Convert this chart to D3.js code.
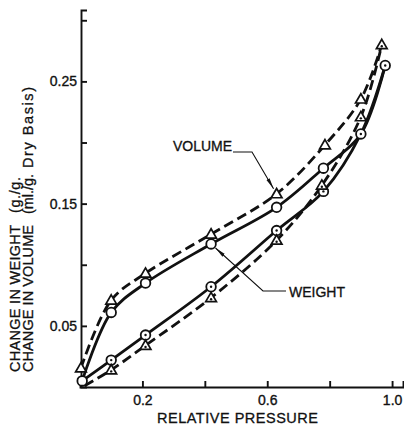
<!DOCTYPE html>
<html>
<head>
<meta charset="utf-8">
<script src="https://cdn.jsdelivr.net/npm/d3@7"></script>
<style>
  body { margin: 0; background: #fff; }
  svg text { font-family: "Liberation Sans", Arial, sans-serif; fill: #111; }
</style>
</head>
<body>
<div id="chart"></div>
<script>
// relative pressure (x) and change per g dry basis (y)
var weightUpX = [0.007, 0.10, 0.21, 0.42, 0.63, 0.78, 0.90, 0.978];
var weightUpY = [0.005, 0.061, 0.085, 0.117, 0.147, 0.179, 0.207, 0.263];
var weightLowX = [0.007, 0.10, 0.21, 0.42, 0.63, 0.78, 0.90, 0.978];
var weightLowY = [0.005, 0.022, 0.0425, 0.082, 0.128, 0.160, 0.207, 0.263];
var volumeUpX = [0.003, 0.10, 0.21, 0.42, 0.63, 0.785, 0.90, 0.967];
var volumeUpY = [0.0155, 0.071, 0.093, 0.125, 0.158, 0.198, 0.2355, 0.280];
var volumeLowX = [0.015, 0.10, 0.21, 0.42, 0.63, 0.775, 0.90, 0.967];
var volumeLowY = [0.001, 0.014, 0.034, 0.073, 0.120, 0.165, 0.221, 0.280];

var xTicks = [0.2, 0.4, 0.6, 0.8, 1.0];
var xTickLabels = ["0.2", "", "0.6", "", "1.0"];
var yTicks = [0.05, 0.10, 0.15, 0.20, 0.25, 0.30];
var yTickLabels = ["0.05", "", "0.15", "", "0.25", ""];

var width = 404, height = 431;

var svg = d3.select("#chart").append("svg")
  .attr("width", width)
  .attr("height", height);

var x = d3.scaleLinear().domain([0, 1.035]).range([80, 403]);
var y = d3.scaleLinear().domain([0, 0.3084]).range([387, 10]);

function zip(xs, ys) {
  return xs.map(function (v, i) { return [v, ys[i]]; });
}
var weightUp = zip(weightUpX, weightUpY);
var weightLow = zip(weightLowX, weightLowY);
var volumeUp = zip(volumeUpX, volumeUpY);
var volumeLow = zip(volumeLowX, volumeLowY);

// axes
var xAxis = d3.axisBottom(x)
  .tickValues(xTicks)
  .tickSize(-6)
  .tickPadding(8)
  .tickFormat(function (d, i) { return xTickLabels[i]; });
var gx = svg.append("g").attr("transform", "translate(0," + y(0) + ")").call(xAxis);

var yAxis = d3.axisLeft(y)
  .tickValues(yTicks)
  .tickSize(-6)
  .tickPadding(4)
  .tickFormat(function (d, i) { return yTickLabels[i]; });
var gy = svg.append("g").attr("transform", "translate(" + (x(0) + 1) + ",0)").call(yAxis);

[gx, gy].forEach(function (g) {
  g.select(".domain").attr("stroke", "#111").attr("stroke-width", 1.9);
  g.selectAll(".tick line").attr("stroke", "#111").attr("stroke-width", 1.9);
  g.selectAll(".tick text")
    .attr("fill", "#111")
    .attr("stroke", "#111")
    .attr("stroke-width", 0.35)
    .style("font-size", "14px")
    .style("font-family", '"Liberation Sans", Arial, sans-serif');
});

// axis titles
svg.append("text")
  .attr("x", 157)
  .attr("y", 423)
  .attr("textLength", 161)
  .attr("lengthAdjust", "spacing")
  .attr("stroke", "#111")
  .attr("stroke-width", 0.3)
  .style("font-size", "14.5px")
  .text("RELATIVE PRESSURE");

var yTitle = [
  { t: "CHANGE IN WEIGHT", x: 20, y: 372, len: 147 },
  { t: "(g./g.", x: 20, y: 213, len: 36 },
  { t: "CHANGE IN VOLUME", x: 33, y: 372, len: 147 },
  { t: "(ml./g.", x: 33, y: 214, len: 40 },
  { t: "Dry Basis)", x: 33, y: 168, len: 81 }
];
svg.selectAll(".ytitle")
  .data(yTitle)
  .enter()
  .append("text")
  .attr("class", "ytitle")
  .attr("transform", function (d) { return "translate(" + d.x + "," + d.y + ") rotate(-90)"; })
  .attr("textLength", function (d) { return d.len; })
  .attr("lengthAdjust", "spacing")
  .attr("stroke", "#111")
  .attr("stroke-width", 0.3)
  .style("font-size", "14.5px")
  .text(function (d) { return d.t; });

// curves
var line = d3.line()
  .x(function (d) { return x(d[0]); })
  .y(function (d) { return y(d[1]); })
  .curve(d3.curveCatmullRom.alpha(0.5));

var series = [
  { pts: weightUp, dash: null },
  { pts: weightLow, dash: null },
  { pts: volumeUp, dash: "10,5" },
  { pts: volumeLow, dash: "10,5" }
];
series.forEach(function (s) {
  svg.append("path")
    .attr("d", line(s.pts))
    .attr("fill", "none")
    .attr("stroke", "#111")
    .attr("stroke-width", 2.8)
    .attr("stroke-dasharray", s.dash);
});

// markers: lower branch points carry a centre dot; the first lower point is the loop start
function sharedWith(list, p) {
  return list.some(function (q, i) { return i > 0 && q[0] === p[0] && q[1] === p[1]; });
}
var triangle = d3.symbol().type(d3.symbolTriangle).size(50);

function drawMarkers(pts, shape, dotted, skip) {
  var g = svg.append("g");
  pts.forEach(function (p, i) {
    if (skip(p, i)) return;
    var cx = x(p[0]), cy = y(p[1]);
    if (shape === "circle") {
      g.append("circle").attr("cx", cx).attr("cy", cy).attr("r", 4.8)
        .attr("fill", "#fff").attr("stroke", "#111").attr("stroke-width", 1.8);
    } else {
      g.append("path").attr("d", triangle).attr("transform", "translate(" + cx + "," + (cy + 0.8) + ")")
        .attr("fill", "#fff").attr("stroke", "#111").attr("stroke-width", 1.7);
    }
    if (dotted) {
      g.append("circle").attr("cx", cx).attr("cy", cy + (shape === "circle" ? 0 : 1.5)).attr("r", 1.2).attr("fill", "#111");
    }
  });
}
drawMarkers(weightUp, "circle", false, function (p) { return sharedWith(weightLow, p); });
drawMarkers(volumeUp, "triangle", false, function (p) { return sharedWith(volumeLow, p); });
drawMarkers(weightLow, "circle", true, function (p, i) { return i === 0; });
drawMarkers(volumeLow, "triangle", true, function (p, i) { return i === 0; });

// annotations with leader arrows
svg.append("defs").append("marker")
  .attr("id", "arrow")
  .attr("markerUnits", "userSpaceOnUse")
  .attr("markerWidth", 12).attr("markerHeight", 6)
  .attr("refX", 11).attr("refY", 3)
  .attr("orient", "auto")
  .append("path")
  .attr("d", "M0,1.2 L11,3 L0,4.8 Z")
  .attr("fill", "#111");

function leader(elbow, start, target, gap) {
  var tx = x(target[0]), ty = y(target[1]);
  var dx = tx - elbow[0], dy = ty - elbow[1];
  var len = Math.sqrt(dx * dx + dy * dy);
  var ex = tx - dx / len * gap, ey = ty - dy / len * gap;
  svg.append("path")
    .attr("d", "M" + start[0] + "," + start[1] + " L" + elbow[0] + "," + elbow[1] + " L" + ex + "," + ey)
    .attr("fill", "none")
    .attr("stroke", "#111")
    .attr("stroke-width", 1.1)
    .attr("marker-end", "url(#arrow)");
}

svg.append("text").attr("x", 173).attr("y", 151)
  .attr("stroke", "#111").attr("stroke-width", 0.3)
  .style("font-size", "14px").text("VOLUME");
leader([252, 152], [233, 152], volumeUp[4], 6);

svg.append("text").attr("x", 289).attr("y", 297)
  .attr("stroke", "#111").attr("stroke-width", 0.3)
  .style("font-size", "14px").text("WEIGHT");
leader([263, 291], [286, 291], weightUp[3], 6);
</script>
</body>
</html>
